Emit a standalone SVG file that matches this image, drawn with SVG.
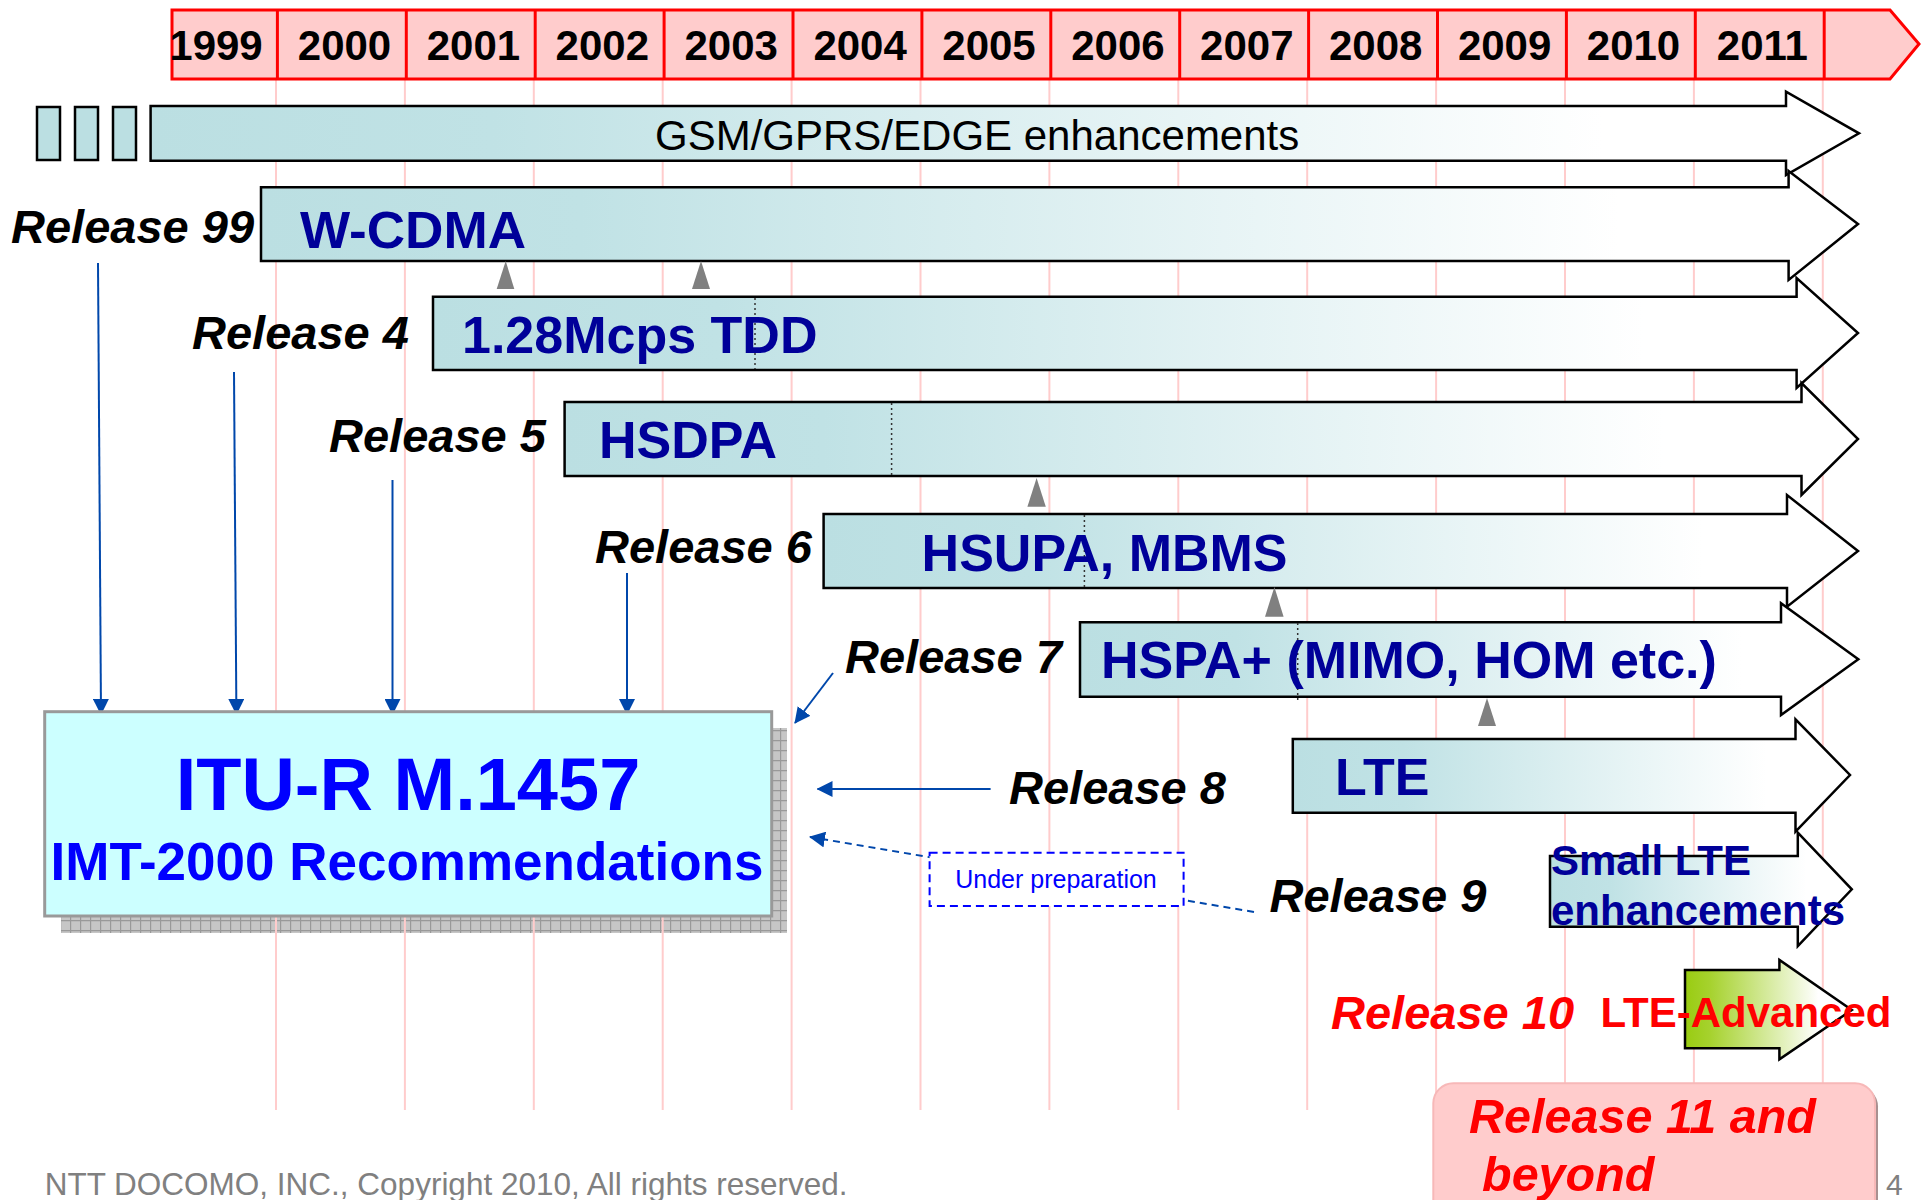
<svg xmlns="http://www.w3.org/2000/svg" width="1921" height="1200" viewBox="0 0 1921 1200">
  <style>
    text { font-family: "Liberation Sans", Arial, sans-serif; }
    .yr { font-weight: bold; font-size: 42px; text-anchor: middle; fill: #000; }
    .rel { font-weight: bold; font-style: italic; font-size: 47px; fill: #000; }
    .relred { font-weight: bold; font-style: italic; fill: #FF0000; }
    .feat { font-weight: bold; font-size: 52px; fill: #000099; }
    .band { stroke: #000; stroke-width: 2.5; stroke-linejoin: miter; }
    .grid { stroke: #FFCCCC; stroke-width: 2; }
    .cell { stroke: #FF0000; stroke-width: 3; }
    .tri { fill: #808080; }
    .dot { stroke: #333; stroke-width: 1.5; stroke-dasharray: 2 3; }
    .link { stroke: #0047AB; stroke-width: 2; fill: none; }
  </style>
  <defs>
    <linearGradient id="teal" x1="0" y1="0" x2="1" y2="0">
      <stop offset="0" stop-color="#BBDFE2"/>
      <stop offset="0.2" stop-color="#C0E2E5"/>
      <stop offset="0.85" stop-color="#FFFFFF"/>
      <stop offset="1" stop-color="#FFFFFF"/>
    </linearGradient>
    <linearGradient id="green" x1="0" y1="0" x2="1" y2="0">
      <stop offset="0" stop-color="#99CC11"/>
      <stop offset="0.15" stop-color="#A6D22E"/>
      <stop offset="0.8" stop-color="#FFFFFF"/>
    </linearGradient>
    <pattern id="hatch" width="10" height="10" patternUnits="userSpaceOnUse">
      <rect width="10" height="10" fill="#C6C6C6"/>
      <path d="M0,0.6 H10 M0.6,0 V10" stroke="#999999" stroke-width="1.2"/>
    </pattern>
    <marker id="ah" viewBox="0 0 16 16" markerWidth="16" markerHeight="16" refX="15" refY="8" orient="auto" markerUnits="userSpaceOnUse">
      <path d="M0,0 L16,8 L0,16 Z" fill="#0047AB"/>
    </marker>
    <clipPath id="hdrclip">
      <path d="M172,10 H1890 L1919,44 L1890,79 H172 Z"/>
    </clipPath>
  </defs>

  <rect width="1921" height="1200" fill="#FFFFFF"/>

  <!-- drop shadow of the ITU-R box -->
  <rect x="61" y="728" width="726" height="205" fill="url(#hatch)"/>

  <!-- year grid lines -->
  <g id="gridlines">
    <line class="grid" x1="276" y1="80" x2="276" y2="1110"/>
    <line class="grid" x1="404.9" y1="80" x2="404.9" y2="1110"/>
    <line class="grid" x1="533.8" y1="80" x2="533.8" y2="1110"/>
    <line class="grid" x1="662.7" y1="80" x2="662.7" y2="1110"/>
    <line class="grid" x1="791.6" y1="80" x2="791.6" y2="1110"/>
    <line class="grid" x1="920.5" y1="80" x2="920.5" y2="1110"/>
    <line class="grid" x1="1049.4" y1="80" x2="1049.4" y2="1110"/>
    <line class="grid" x1="1178.3" y1="80" x2="1178.3" y2="1110"/>
    <line class="grid" x1="1307.2" y1="80" x2="1307.2" y2="1110"/>
    <line class="grid" x1="1436.1" y1="80" x2="1436.1" y2="1110"/>
    <line class="grid" x1="1565" y1="80" x2="1565" y2="1110"/>
    <line class="grid" x1="1693.9" y1="80" x2="1693.9" y2="1110"/>
    <line class="grid" x1="1822.8" y1="80" x2="1822.8" y2="1110"/>
  </g>

  <!-- timeline header -->
  <g id="timeline">
    <path class="cell" d="M172,10 H1890 L1919,44 L1890,79 H172 Z" fill="#FFCCCC"/>
    <g class="cell">
      <line x1="277.4" y1="10" x2="277.4" y2="79"/>
      <line x1="406.3" y1="10" x2="406.3" y2="79"/>
      <line x1="535.2" y1="10" x2="535.2" y2="79"/>
      <line x1="664.1" y1="10" x2="664.1" y2="79"/>
      <line x1="793" y1="10" x2="793" y2="79"/>
      <line x1="921.9" y1="10" x2="921.9" y2="79"/>
      <line x1="1050.8" y1="10" x2="1050.8" y2="79"/>
      <line x1="1179.7" y1="10" x2="1179.7" y2="79"/>
      <line x1="1308.6" y1="10" x2="1308.6" y2="79"/>
      <line x1="1437.5" y1="10" x2="1437.5" y2="79"/>
      <line x1="1566.4" y1="10" x2="1566.4" y2="79"/>
      <line x1="1695.3" y1="10" x2="1695.3" y2="79"/>
      <line x1="1824.2" y1="10" x2="1824.2" y2="79"/>
    </g>
    <g clip-path="url(#hdrclip)">
      <text class="yr" x="216" y="60">1999</text>
    </g>
    <text class="yr" x="344.5" y="60">2000</text>
    <text class="yr" x="473.4" y="60">2001</text>
    <text class="yr" x="602.3" y="60">2002</text>
    <text class="yr" x="731.2" y="60">2003</text>
    <text class="yr" x="860.1" y="60">2004</text>
    <text class="yr" x="989" y="60">2005</text>
    <text class="yr" x="1117.9" y="60">2006</text>
    <text class="yr" x="1246.8" y="60">2007</text>
    <text class="yr" x="1375.7" y="60">2008</text>
    <text class="yr" x="1504.6" y="60">2009</text>
    <text class="yr" x="1633.5" y="60">2010</text>
    <text class="yr" x="1762.4" y="60">2011</text>
  </g>

  <!-- GSM/GPRS/EDGE band -->
  <g id="gsm">
    <rect class="band" x="37" y="107" width="23" height="53" fill="#BBDFE2"/>
    <rect class="band" x="75" y="107" width="23" height="53" fill="#BBDFE2"/>
    <rect class="band" x="113" y="107" width="23" height="53" fill="#BBDFE2"/>
    <path class="band" fill="url(#teal)" d="M150.6,106 H1786 V91.7 L1859,133.3 L1786,175 V160.7 H150.6 Z"/>
    <text x="655" y="150" font-size="42" fill="#000">GSM/GPRS/EDGE enhancements</text>
  </g>

  <!-- Release 99 -->
  <g id="rel99">
    <path class="band" fill="url(#teal)" d="M261,187.3 H1788.6 V171 L1858,224 L1788.6,280 V261 H261 Z"/>
    <text class="feat" x="300" y="248" textLength="226" lengthAdjust="spacingAndGlyphs">W-CDMA</text>
    <text class="rel" x="11" y="243">Release 99</text>
  </g>

  <!-- Release 4 -->
  <g id="rel4">
    <path class="band" fill="url(#teal)" d="M433,296.7 H1796.6 V278 L1858,333 L1796.6,388 V370 H433 Z"/>
    <line class="dot" x1="755" y1="298" x2="755" y2="369"/>
    <text class="feat" x="462" y="353">1.28Mcps TDD</text>
    <text class="rel" x="192" y="349">Release 4</text>
  </g>

  <!-- Release 5 -->
  <g id="rel5">
    <path class="band" fill="url(#teal)" d="M564.6,402 H1801.5 V383 L1858,439 L1801.5,495 V476 H564.6 Z"/>
    <line class="dot" x1="891.6" y1="403" x2="891.6" y2="475"/>
    <text class="feat" x="599" y="458">HSDPA</text>
    <text class="rel" x="329" y="452">Release 5</text>
  </g>

  <!-- Release 6 -->
  <g id="rel6">
    <path class="band" fill="url(#teal)" d="M823.6,514 H1787 V495 L1858,551 L1787,606.7 V588 H823.6 Z"/>
    <line class="dot" x1="1084.4" y1="515" x2="1084.4" y2="587"/>
    <text class="feat" x="921.6" y="571">HSUPA, MBMS</text>
    <text class="rel" x="595" y="563">Release 6</text>
  </g>

  <!-- Release 7 -->
  <g id="rel7">
    <path class="band" fill="url(#teal)" d="M1080,622.3 H1781 V603.3 L1858.3,659.3 L1781,715 V696.7 H1080 Z"/>
    <line class="dot" x1="1297.7" y1="623" x2="1297.7" y2="700"/>
    <text class="feat" x="1101" y="678">HSPA+ (MIMO, HOM etc.)</text>
    <text class="rel" x="845" y="673">Release 7</text>
  </g>

  <!-- Release 8 -->
  <g id="rel8">
    <path class="band" fill="url(#teal)" d="M1292.8,739 H1795.5 V719.3 L1850,775 L1795.5,831.7 V812.7 H1292.8 Z"/>
    <text class="feat" x="1335" y="795">LTE</text>
    <text class="rel" x="1009" y="804">Release 8</text>
  </g>

  <!-- Release 9 -->
  <g id="rel9">
    <path class="band" fill="url(#teal)" d="M1550,856 H1797.8 V832.7 L1851.8,889.3 L1797.8,946 V926.7 H1550 Z"/>
    <text font-weight="bold" font-size="42" fill="#000099" x="1551" y="875">Small LTE</text>
    <text font-weight="bold" font-size="42" fill="#000099" x="1551" y="925">enhancements</text>
    <text class="rel" x="1269.5" y="912">Release 9</text>
  </g>

  <!-- Release 10 -->
  <g id="rel10">
    <path class="band" fill="url(#green)" d="M1685,970 H1779.4 V960 L1851.8,1010 L1779.4,1059.3 V1048.3 H1685 Z"/>
    <text class="relred" font-size="47" x="1331" y="1029">Release 10</text>
    <text font-weight="bold" font-size="42" fill="#FF0000" x="1600.5" y="1027">LTE-Advanced</text>
  </g>

  <!-- Release 11 and beyond -->
  <g id="rel11">
    <rect x="1436.3" y="1086.3" width="441.7" height="140" rx="20" fill="#A89090"/>
    <rect x="1433.3" y="1083.3" width="441.7" height="140" rx="20" fill="#FFCCCC" stroke="#F7B8B8" stroke-width="2"/>
    <text class="relred" font-size="48.5" x="1469" y="1133">Release 11 and</text>
    <text class="relred" font-size="48.5" x="1482" y="1191">beyond</text>
  </g>

  <!-- connectors -->
  <g id="connectors">
    <line class="link" x1="98" y1="263" x2="101" y2="714" marker-end="url(#ah)"/>
    <line class="link" x1="234" y1="372" x2="236.4" y2="714" marker-end="url(#ah)"/>
    <line class="link" x1="392.5" y1="480" x2="392.5" y2="714" marker-end="url(#ah)"/>
    <line class="link" x1="627" y1="573" x2="627" y2="714" marker-end="url(#ah)"/>
    <line class="link" x1="833" y1="673" x2="795" y2="723" marker-end="url(#ah)"/>
    <line class="link" x1="990.6" y1="789" x2="817.5" y2="789" marker-end="url(#ah)"/>
    <line class="link" x1="1254" y1="912" x2="810" y2="837" stroke-dasharray="7 5" marker-end="url(#ah)"/>
    <polygon class="tri" points="505.7,261 514.3,289 496.7,289"/>
    <polygon class="tri" points="701,261 710,289 692,289"/>
    <polygon class="tri" points="1036.6,478 1045.8,506.7 1027.4,506.7"/>
    <polygon class="tri" points="1274.4,587 1283.6,616.7 1265,616.7"/>
    <polygon class="tri" points="1487,698 1496,726 1478,726"/>
  </g>

  <!-- note box on the Release 9 link -->
  <g id="note">
    <rect x="929.6" y="852.7" width="254" height="53.3" fill="#FFFFFF" stroke="#0000FF" stroke-width="2" stroke-dasharray="8 5"/>
    <text x="1056" y="888" font-size="25" fill="#0000FF" text-anchor="middle">Under preparation</text>
  </g>

  <!-- ITU-R recommendation box -->
  <g id="itu">
    <rect x="44.7" y="711.7" width="727" height="204.3" fill="#CCFFFF" stroke="#999999" stroke-width="3"/>
    <text x="408" y="810" font-size="74" font-weight="bold" fill="#0000FF" text-anchor="middle">ITU-R M.1457</text>
    <text x="407" y="880" font-size="53" font-weight="bold" fill="#0000FF" text-anchor="middle">IMT-2000 Recommendations</text>
  </g>

  <!-- footer -->
  <text x="44.7" y="1195" font-size="31.5" fill="#808080">NTT DOCOMO, INC., Copyright 2010, All rights reserved.</text>
  <text x="1886" y="1195" font-size="30" fill="#808080">4</text>
</svg>
